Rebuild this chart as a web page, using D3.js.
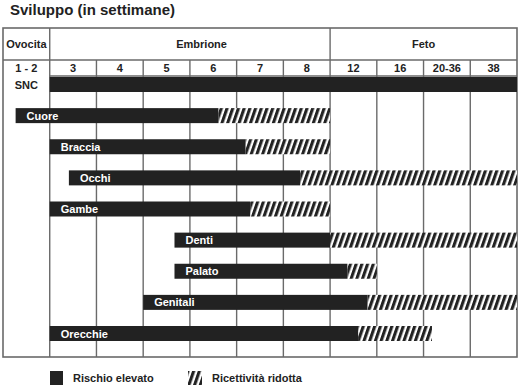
<!DOCTYPE html>
<html lang="it">
<head>
<meta charset="UTF-8">
<script src="https://d3js.org/d3.v7.min.js"></script>
<style>
  body { margin: 0; background: #fff; }
  text { font-family: "Liberation Sans", Arial, sans-serif; font-weight: bold; }
</style>
</head>
<body>
<svg width="520" height="387" id="chart"></svg>
<script>
// columns of the table (index -1 is the oocyte column)
const weeks = ["1 - 2", "3", "4", "5", "6", "7", "8", "12", "16", "20-36", "38"];
const phaseNames = ["Ovocita", "Embrione", "Feto"];
const phaseStart = [-1, 0, 6];
const phaseEnd = [0, 6, 10];
const phaseLabelAt = [-0.5, 3.25, 8];

// organs, values in column units (0 = start of week 3)
const organs = ["SNC", "Cuore", "Braccia", "Occhi", "Gambe", "Denti", "Palato", "Genitali", "Orecchie"];
const riskStart = [0, -0.73, 0, 0.41, 0, 2.67, 2.67, 2, 0];
const riskEnd = [10, 3.61, 4.19, 5.36, 4.29, 6, 6.37, 6.8, 6.6];
const reducedEnd = [10, 6, 6, 10, 6, 10, 7, 10, 8.18];

const legendLabels = ["Rischio elevato", "Ricettività ridotta"];

const svg = d3.select("#chart");
const dark = "#222";
const gridCol = "#6a6a6a";

const x = d3.scaleLinear().domain([-1, 10]).range([3, 517]);
const y = d3.scaleLinear().domain([0, organs.length - 1]).range([77, 326]);
const barH = 15;
const yTop = 28, row1 = 60, row2 = 76, yBottom = 357;

// hatch pattern
const defs = svg.append("defs");
const pat = defs.append("pattern")
    .attr("id", "hatch")
    .attr("patternUnits", "userSpaceOnUse")
    .attr("width", 5.4)
    .attr("height", 6)
    .attr("patternTransform", "rotate(19)");
pat.append("rect").attr("width", 5.4).attr("height", 6).attr("fill", "#fff");
pat.append("rect").attr("width", 3.1).attr("height", 6).attr("fill", dark);

// title
svg.append("text")
    .attr("x", 10)
    .attr("y", 15)
    .attr("font-size", 15)
    .attr("fill", dark)
    .text("Sviluppo (in settimane)");

// grid lines
const g = svg.append("g").attr("stroke", gridCol).attr("stroke-width", 1.4);

// vertical lines between week columns
for (let i = 1; i < 10; i++) {
    let isPhase = phaseStart.includes(i);
    g.append("line")
        .attr("x1", x(i)).attr("x2", x(i))
        .attr("y1", isPhase ? yTop : row1).attr("y2", yBottom);
}
g.append("line").attr("x1", x(0)).attr("x2", x(0)).attr("y1", yTop).attr("y2", yBottom);

// horizontal header lines
g.append("line").attr("x1", x(-1)).attr("x2", x(10)).attr("y1", row1).attr("y2", row1);
g.append("line").attr("x1", x(0)).attr("x2", x(10)).attr("y1", row2).attr("y2", row2);

// outer border
g.append("rect")
    .attr("x", x(-1)).attr("y", yTop)
    .attr("width", x(10) - x(-1)).attr("height", yBottom - yTop)
    .attr("fill", "none")
    .attr("stroke-width", 1.6);

// phase labels
phaseNames.forEach((p, i) => {
    svg.append("text")
        .attr("x", x(phaseLabelAt[i]))
        .attr("y", (yTop + row1) / 2 + 4)
        .attr("text-anchor", "middle")
        .attr("font-size", 11)
        .attr("fill", dark)
        .text(p);
});

// week labels
weeks.forEach((w, i) => {
    svg.append("text")
        .attr("x", x(i - 1 + 0.5))
        .attr("y", 72)
        .attr("text-anchor", "middle")
        .attr("font-size", 11)
        .attr("fill", dark)
        .text(w);
});

// bars
organs.forEach((o, i) => {
    let yy = y(i);
    if (reducedEnd[i] > riskEnd[i]) {
        svg.append("rect")
            .attr("x", x(riskEnd[i]))
            .attr("y", yy)
            .attr("width", x(reducedEnd[i]) - x(riskEnd[i]))
            .attr("height", barH)
            .attr("fill", "url(#hatch)");
    }
    svg.append("rect")
        .attr("x", x(riskStart[i]))
        .attr("y", yy)
        .attr("width", x(riskEnd[i]) - x(riskStart[i]))
        .attr("height", barH)
        .attr("fill", dark);

    if (i == 0) {
        // SNC label sits in the first column
        svg.append("text")
            .attr("x", x(-0.5))
            .attr("y", yy + 12)
            .attr("text-anchor", "middle")
            .attr("font-size", 11)
            .attr("fill", dark)
            .text(o);
    } else {
        svg.append("text")
            .attr("x", x(riskStart[i]) + 11)
            .attr("y", yy + 11.5)
            .attr("font-size", 11)
            .attr("fill", "#fff")
            .text(o);
    }
});

// legend
svg.append("rect").attr("x", 50).attr("y", 371).attr("width", 13).attr("height", 14).attr("fill", dark);
svg.append("text").attr("x", 73).attr("y", 382).attr("font-size", 11).attr("fill", dark).text(legendLabels[0]);
svg.append("rect").attr("x", 188).attr("y", 371).attr("width", 14).attr("height", 14).attr("fill", "url(#hatch)");
svg.append("text").attr("x", 212).attr("y", 382).attr("font-size", 11).attr("fill", dark).text(legendLabels[1]);
</script>
</body>
</html>
